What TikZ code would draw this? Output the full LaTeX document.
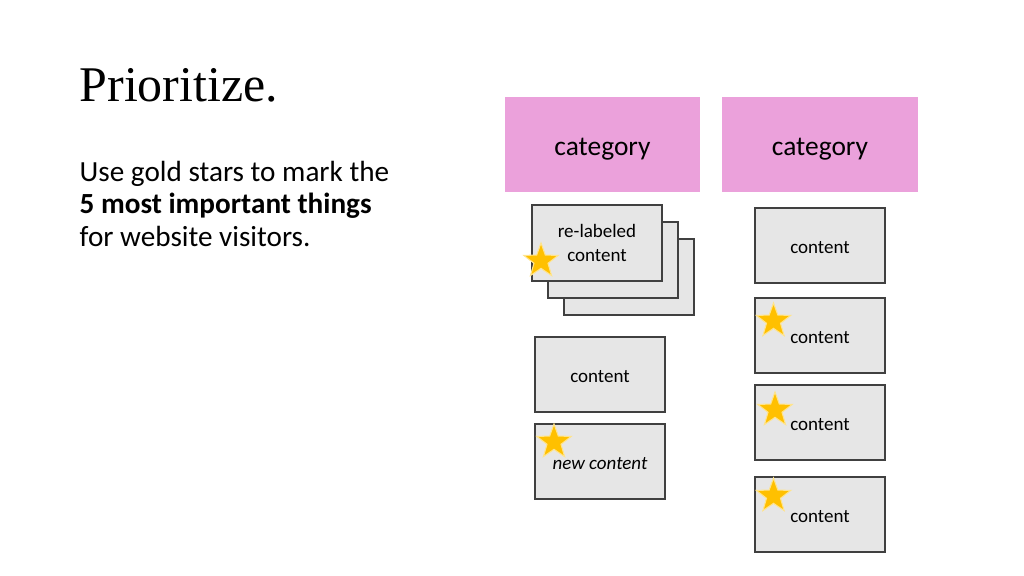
\documentclass[tikz,border=0pt]{standalone}
\usepackage{fontspec}
\setmainfont{Carlito}
\newfontfamily\headfont{Liberation Serif}
\usetikzlibrary{positioning,shapes.geometric}
\definecolor{catpink}{RGB}{235,161,219}
\definecolor{cardgray}{RGB}{230,230,230}
\definecolor{cardline}{RGB}{64,64,64}
\definecolor{stargold}{RGB}{255,192,0}
\definecolor{staredge}{RGB}{255,228,140}
\tikzset{
  catbox/.style={rectangle, fill=catpink, minimum width=1.95cm, minimum height=0.95cm,
    inner sep=0pt, text height=0.227cm, text depth=0pt, font=\fontsize{7.8}{9}\selectfont},
  cardbox/.style={rectangle, draw=cardline, line width=0.45pt, fill=cardgray,
    minimum width=1.3cm, minimum height=0.755cm, inner sep=0pt, align=center,
    font=\fontsize{5.4}{6.6}\selectfont},
  oneline/.style={text height=0.16cm, text depth=0pt},
  goldstar/.style={star, star points=5, star point ratio=2.45, fill=stargold,
    draw=staredge, line width=0.3pt, minimum size=0.36cm, inner sep=0pt}
}
\begin{document}
\begin{tikzpicture}[x=0.01cm,y=-0.01cm]
	\useasboundingbox (0,0) rectangle (1024,576);
	% heading and instructions
	\node[anchor=base west, inner sep=0pt, font=\headfont\fontsize{14.2}{16}\selectfont] (title) at (79,102) {Prioritize.};
	\node[anchor=base west, inner sep=0pt, font=\fontsize{8.3}{9.1}\selectfont] (line1) at (79,182) {Use gold stars to mark the};
	\node[anchor=base west, inner sep=0pt, font=\fontsize{8.3}{9.1}\selectfont\bfseries] (line2) at (79,214) {5 most important things};
	\node[anchor=base west, inner sep=0pt, font=\fontsize{8.3}{9.1}\selectfont] (line3) at (79,246) {for website visitors.};
	
	% category headers
	\node[catbox] (catA) at (602.5,144.5) {category};
	\node[catbox] (catB) at (820,144.5) {category};
	
	% left column: stacked cards
	\node[cardbox] (stackC) at (629,277) {};
	\node[cardbox] (stackB) at (613,260) {};
	\node[cardbox] (relabel) at (597,243) {re-labeled\\content};
	\node[cardbox,oneline] (leftA) at (600,374.5) {content};
	\node[cardbox,oneline] (newc) at (600,461.5) {\itshape new content};
	
	% right column
	\node[cardbox,oneline] (rightA) at (820,245.5) {content};
	\node[cardbox,oneline] (rightB) at (820,335.5) {content};
	\node[cardbox,oneline] (rightC) at (820,422.5) {content};
	\node[cardbox,oneline] (rightD) at (820,514.5) {content};
	
	% gold stars
	\node[goldstar] (starA) at (541,261) {};
	\node[goldstar] (starB) at (554,442) {};
	\node[goldstar] (starC) at (773.5,321) {};
	\node[goldstar] (starD) at (775,410) {};
	\node[goldstar] (starE) at (773.5,496) {};
\end{tikzpicture}
\end{document}
